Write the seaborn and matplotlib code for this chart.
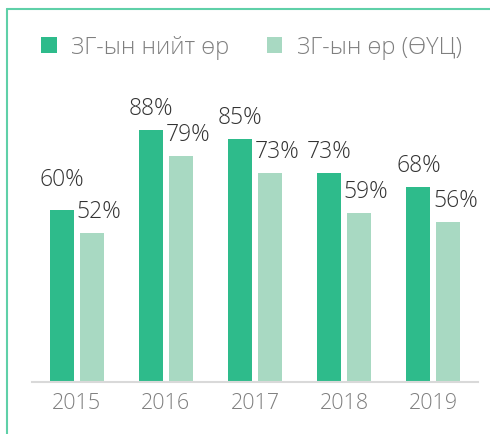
import pandas as pd
import matplotlib.pyplot as plt
import seaborn as sns
from matplotlib.lines import Line2D
from matplotlib.patches import Patch

# data
years = ["2015", "2016", "2017", "2018", "2019"]
total_debt = [60, 88, 85, 73, 68]
debt_ouc = [52, 79, 73, 59, 56]
series_names = ["ЗГ-ын нийт өр", "ЗГ-ын өр (ӨҮЦ)"]
colors = ["#2EBB8B", "#A8D9C2"]

df = pd.DataFrame({
    "year": years * 2,
    "value": total_debt + debt_ouc,
    "series": [series_names[0]] * len(years) + [series_names[1]] * len(years),
})

sns.set_style("white")
plt.rcParams["font.family"] = ["Open Sans", "DejaVu Sans"]

fig = plt.figure(figsize=(4.9, 4.35), dpi=100)
ax = fig.add_axes([32 / 490, 1 - 383 / 435, 446 / 490, 286.4 / 435])

sns.barplot(data=df, x="year", y="value", hue="series", palette=colors,
            saturation=1, width=0.673, gap=0.2, linewidth=0, ax=ax, legend=False)

ax.set_ylim(0, 100)
ax.set_xlim(-0.5, 4.5)
ax.set_xlabel("")
ax.set_ylabel("")
ax.set_yticks([])
for s in ["top", "right", "left"]:
    ax.spines[s].set_visible(False)
ax.spines["bottom"].set_color("#d9d9d9")
ax.spines["bottom"].set_linewidth(1.5)
ax.tick_params(axis="x", length=0, pad=7, labelsize=15.5, labelcolor="#7f7f7f")
for t in ax.get_xticklabels():
    t.set_fontweight("light")

# value labels
for i, cont in enumerate(ax.containers):
    for j, bar in enumerate(cont):
        h = bar.get_height()
        dx = 0 if i == 0 else 5
        dy = 11.5
        if i == 0 and j == 0:
            dy = 18
        ax.annotate(f"{h:.0f}%", (bar.get_x() + bar.get_width() / 2, h),
                    xytext=(dx, dy), textcoords="offset points",
                    ha="center", va="baseline", fontsize=16.5,
                    fontweight="light", color="#333333")

# legend
handles = [Patch(facecolor=c, edgecolor="none") for c in colors]
fig.legend(handles, series_names, loc="center left",
           bbox_to_anchor=(41 / 490, 1 - 48 / 435), ncol=2, frameon=False,
           prop={"size": 17, "weight": "light"}, labelcolor="#7f7f7f",
           handlelength=0.66, handleheight=0.66, handletextpad=0.6,
           columnspacing=1.6, borderpad=0, borderaxespad=0)

# green frame on the top and left edges
fig.add_artist(Line2D([7 / 490, 7 / 490], [0, 1 - 10 / 435], color="#5FD0A8", lw=1.5))
fig.add_artist(Line2D([7 / 490, 1], [1 - 10 / 435, 1 - 10 / 435], color="#5FD0A8", lw=1.5))

fig.savefig("out.png", dpi=100)
